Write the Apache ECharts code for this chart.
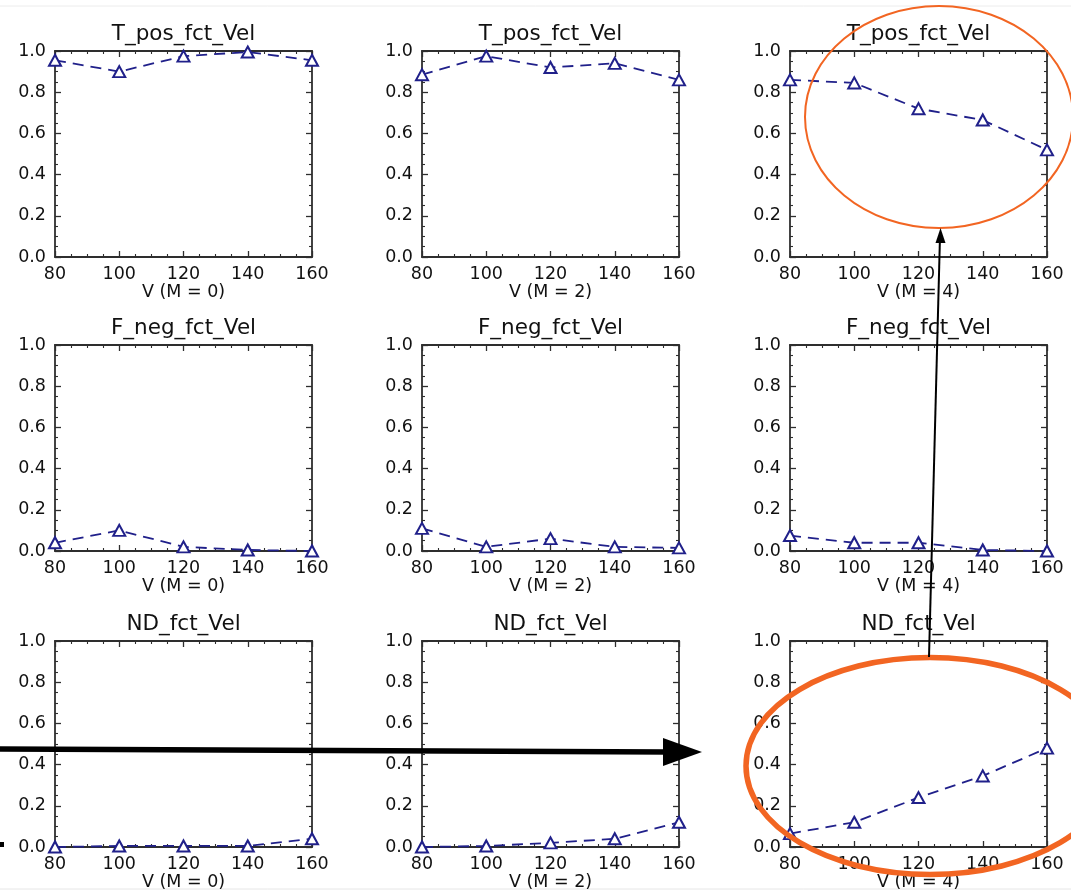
<!DOCTYPE html>
<html>
<head>
<meta charset="utf-8">
<script src="https://cdn.jsdelivr.net/npm/echarts@6/dist/echarts.min.js"></script>
<style>
  html, body { margin: 0; padding: 0; background: #fff; }
  #chart { width: 1071px; height: 892px; }
</style>
</head>
<body>
<div id="chart"></div>
<script>
// ---- data ----
const velocities = [80, 100, 120, 140, 160];
const xTickValues = [80, 100, 120, 140, 160];
const yTickValues = [0.0, 0.2, 0.4, 0.6, 0.8, 1.0];
const rowTitles = ['T_pos_fct_Vel', 'F_neg_fct_Vel', 'ND_fct_Vel'];
const colAxisNames = ['V (M = 0)', 'V (M = 2)', 'V (M = 4)'];

const tposM0 = [0.955, 0.90, 0.975, 0.995, 0.955];
const tposM2 = [0.885, 0.975, 0.92, 0.94, 0.86];
const tposM4 = [0.86, 0.845, 0.72, 0.665, 0.52];
const fnegM0 = [0.04, 0.10, 0.02, 0.005, 0.0];
const fnegM2 = [0.11, 0.02, 0.06, 0.02, 0.015];
const fnegM4 = [0.075, 0.04, 0.04, 0.005, 0.0];
const ndM0 = [0.0, 0.005, 0.005, 0.005, 0.04];
const ndM2 = [0.0, 0.005, 0.02, 0.04, 0.12];
const ndM4 = [0.065, 0.12, 0.24, 0.345, 0.48];

const panelValues = [
  [tposM0, tposM2, tposM4],
  [fnegM0, fnegM2, fnegM4],
  [ndM0, ndM2, ndM4]
];

// ---- layout / style ----
const FONT = 'DejaVu Sans';
const colLeft = [55, 422, 790];
const rowTop = [51, 345, 641];
const plotW = 257;
const plotH = 206;
const axisColor = '#2e2e2e';
const textColor = '#111111';
const navy = '#20208a';
const orange = '#f26522';

const chart = echarts.init(document.getElementById('chart'), null, { renderer: 'canvas' });

const grids = [], xAxes = [], yAxes = [], series = [], graphics = [];

function tickStyles() {
  return {
    axisLine: { show: true, onZero: false, lineStyle: { color: axisColor, width: 1.8 } },
    axisTick: { show: true, inside: true, length: 6, lineStyle: { color: axisColor, width: 1.3 } },
    minorTick: { show: true, splitNumber: 4, length: 3, lineStyle: { color: axisColor, width: 1.1 } },
    splitLine: { show: false },
    minorSplitLine: { show: false }
  };
}

for (let r = 0; r < 3; r++) {
  for (let c = 0; c < 3; c++) {
    const k = r * 3 + c;
    grids.push({ left: colLeft[c], top: rowTop[r], width: plotW, height: plotH, containLabel: false, show: false });

    xAxes.push(Object.assign({
      type: 'value', gridIndex: k, position: 'bottom',
      min: xTickValues[0], max: xTickValues[xTickValues.length - 1], interval: 20,
      name: colAxisNames[c], nameLocation: 'middle', nameGap: 26, nameMoveOverlap: false,
      nameTextStyle: { fontFamily: FONT, fontSize: 17.5, color: textColor },
      axisLabel: { show: true, margin: 8, fontFamily: FONT, fontSize: 17.5, color: textColor,
        showMinLabel: true, showMaxLabel: true, hideOverlap: false,
        formatter: v => String(v) }
    }, tickStyles()));
    xAxes.push(Object.assign({
      type: 'value', gridIndex: k, position: 'top',
      min: xTickValues[0], max: xTickValues[xTickValues.length - 1], interval: 20,
      axisLabel: { show: false }
    }, tickStyles()));

    yAxes.push(Object.assign({
      type: 'value', gridIndex: k, position: 'left',
      min: yTickValues[0], max: yTickValues[yTickValues.length - 1], interval: 0.2,
      axisLabel: { show: true, margin: 9, fontFamily: FONT, fontSize: 17.5, color: textColor,
        showMinLabel: true, showMaxLabel: true, hideOverlap: false,
        formatter: v => v.toFixed(1) }
    }, tickStyles()));
    yAxes.push(Object.assign({
      type: 'value', gridIndex: k, position: 'right',
      min: yTickValues[0], max: yTickValues[yTickValues.length - 1], interval: 0.2,
      axisLabel: { show: false }
    }, tickStyles()));

    const vals = panelValues[r][c];
    series.push({
      type: 'line',
      xAxisIndex: 2 * k, yAxisIndex: 2 * k,
      data: velocities.map((v, i) => [v, vals[i]]),
      symbol: 'emptyTriangle',
      symbolSize: [12, 11],
      showAllSymbol: true,
      clip: true,
      lineStyle: { color: navy, width: 1.8, type: [11, 7] },
      itemStyle: { color: navy, borderColor: navy, borderWidth: 1.4 },
      emphasis: { disabled: true },
      z: 3
    });

    graphics.push({
      type: 'text',
      x: colLeft[c] + plotW / 2, y: rowTop[r] - 17,
      style: { text: rowTitles[r], fontFamily: FONT, fontSize: 21.5, fill: textColor,
               textAlign: 'center', textVerticalAlign: 'middle' }
    });
  }
}

// faint page borders
graphics.push({ type: 'line', shape: { x1: 0, y1: 6, x2: 1071, y2: 6 }, style: { stroke: '#ececec', lineWidth: 1 } });
graphics.push({ type: 'line', shape: { x1: 0, y1: 889, x2: 1071, y2: 889 }, style: { stroke: '#e6e6e6', lineWidth: 1 } });

// annotations: ellipses
graphics.push({ type: 'ellipse', shape: { cx: 939, cy: 117, rx: 134, ry: 111 },
  style: { fill: 'none', stroke: orange, lineWidth: 2 }, z: 50 });
graphics.push({ type: 'ellipse', shape: { cx: 930, cy: 766, rx: 184, ry: 108.5 },
  style: { fill: 'none', stroke: orange, lineWidth: 5.5 }, z: 50 });

// thin arrow (up to top ellipse)
graphics.push({ type: 'line', shape: { x1: 929, y1: 657, x2: 940, y2: 236 },
  style: { stroke: '#000', lineWidth: 2 }, z: 51 });
graphics.push({ type: 'polygon', shape: { points: [[940.5, 228], [935.5, 243], [945.5, 243]] },
  style: { fill: '#000' }, z: 51 });

// thick arrow (horizontal)
graphics.push({ type: 'line', shape: { x1: 0, y1: 749, x2: 668, y2: 752 },
  style: { stroke: '#000', lineWidth: 5.5 }, z: 51 });
graphics.push({ type: 'polygon', shape: { points: [[663, 738], [702, 752], [663, 766]] },
  style: { fill: '#000' }, z: 51 });

// small stray mark at left edge
graphics.push({ type: 'rect', shape: { x: 0, y: 842, width: 4, height: 5 }, style: { fill: '#000' }, z: 51 });

chart.setOption({
  backgroundColor: '#ffffff',
  animation: false,
  grid: grids,
  xAxis: xAxes,
  yAxis: yAxes,
  series: series,
  graphic: graphics
});
</script>
</body>
</html>
